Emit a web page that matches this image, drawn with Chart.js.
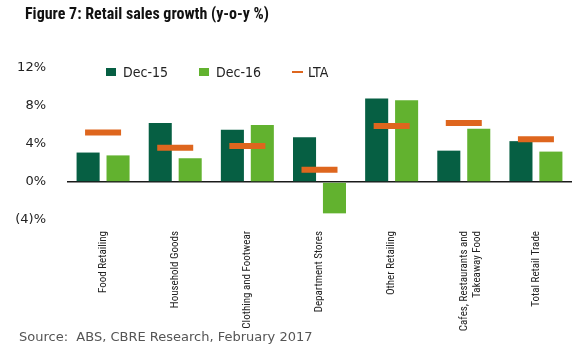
<!DOCTYPE html>
<html>
<head>
<meta charset="utf-8">
<script src="https://cdn.jsdelivr.net/npm/chart.js@4/dist/chart.umd.min.js"></script>
<style>
    body { margin: 0; background: #fff; }
    #wrap { position: relative; width: 580px; height: 352px; }
    #title { position: absolute; left: 25px; top: 4px; font: bold 16px "Roboto Condensed", "DejaVu Sans Condensed", sans-serif; color: #111; white-space: nowrap; }
    #source { position: absolute; left: 19px; top: 329px; font: 13px "DejaVu Sans", sans-serif; color: #555; white-space: nowrap; }
    #legend { position: absolute; left: 0; top: 63px; font: 14px "DejaVu Sans Condensed", "DejaVu Sans", sans-serif; color: #222; }
    .item { position: absolute; top: 0; white-space: nowrap; line-height: 18px; }
    .box { position: absolute; top: 5px; width: 10px; height: 8px; }
    .dash { position: absolute; top: 8px; width: 11px; height: 2px; }
</style>
</head>
<body>
<div id="wrap">
    <div id="title">Figure 7: Retail sales growth (y-o-y %)</div>
    <canvas id="chart" width="580" height="352"></canvas>
    <div id="legend"></div>
    <div id="source">Source:&nbsp; ABS, CBRE Research, February 2017</div>
</div>
<script>
// categories (x axis)
var categories = [
    "Food Retailing",
    "Household Goods",
    "Clothing and Footwear",
    "Department Stores",
    "Other Retailing",
    ["Cafes, Restaurants and", "Takeaway Food"],
    "Total Retail Trade"
];
// y-o-y growth, %
var dec15 = [3.1, 6.2, 5.5, 4.7, 8.8, 3.3, 4.3];
var dec16 = [2.8, 2.5, 6.0, -3.3, 8.6, 5.6, 3.2];
var lta = [5.2, 3.6, 3.8, 1.3, 5.9, 6.2, 4.5];
var seriesNames = ["Dec-15", "Dec-16", "LTA"];
var yTicks = [-4, 0, 4, 8, 12];

var darkGreen = "#065f43";
var lightGreen = "#62b22f";
var orange = "#de661e";

var catFont = { family: "'Roboto Condensed', 'DejaVu Sans Condensed', sans-serif", size: 11 };

var ctx = document.getElementById('chart').getContext('2d');
var chart = new Chart(ctx, {
    type: 'bar',
    data: {
        labels: categories,
        datasets: [
            {
                label: seriesNames[0],
                data: dec15,
                backgroundColor: darkGreen,
                categoryPercentage: 0.83,
                barPercentage: 0.77,
                order: 2
            },
            {
                label: seriesNames[1],
                data: dec16,
                backgroundColor: lightGreen,
                categoryPercentage: 0.83,
                barPercentage: 0.77,
                order: 2
            },
            {
                type: 'line',
                label: seriesNames[2],
                data: lta,
                showLine: false,
                pointStyle: 'line',
                pointRadius: 18,
                pointHoverRadius: 18,
                pointBorderWidth: 6,
                pointHoverBorderWidth: 6,
                borderColor: orange,
                backgroundColor: orange,
                order: 1
            }
        ]
    },
    options: {
        responsive: false,
        animation: false,
        events: [],
        layout: { autoPadding: false, padding: { top: 68, right: 8, left: 0, bottom: 0 } },
        plugins: {
            legend: { display: false },
            tooltip: { enabled: false }
        },
        scales: {
            x: {
                grid: { display: false },
                border: { display: false },
                ticks: {
                    minRotation: 90,
                    maxRotation: 90,
                    padding: 3,
                    color: '#222',
                    font: catFont
                },
                afterFit: function(s) { s.height = 132; }
            },
            y: {
                min: yTicks[0],
                max: yTicks[yTicks.length - 1],
                afterBuildTicks: function(s) {
                    s.ticks = yTicks.map(function(v) { return { value: v }; });
                },
                border: { display: false },
                grid: {
                    drawTicks: false,
                    lineWidth: 1.6,
                    color: function(c) { return c.tick && c.tick.value === 0 ? '#1a1a1a' : 'rgba(0,0,0,0)'; }
                },
                ticks: {
                    padding: 21,
                    color: '#222',
                    font: { family: "'DejaVu Sans', sans-serif", size: 13 },
                    callback: function(v) { return v < 0 ? '(' + Math.abs(v) + ')%' : v + '%'; }
                },
                afterFit: function(s) { s.width = 67; }
            }
        }
    }
});

// legend sits inside the plot, drawn as html
var legendX = [106, 199, 292];
var legend = document.getElementById('legend');
chart.data.datasets.forEach(function(ds, i) {
    var item = document.createElement('div');
    item.className = 'item';
    item.style.left = legendX[i] + 'px';
    var mark = document.createElement('span');
    mark.className = ds.type === 'line' ? 'dash' : 'box';
    mark.style.left = '0px';
    mark.style.background = ds.type === 'line' ? ds.borderColor : ds.backgroundColor;
    var txt = document.createElement('span');
    txt.style.marginLeft = (ds.type === 'line' ? 16 : 17) + 'px';
    txt.textContent = ds.label;
    item.appendChild(mark);
    item.appendChild(txt);
    legend.appendChild(item);
});
</script>
</body>
</html>
